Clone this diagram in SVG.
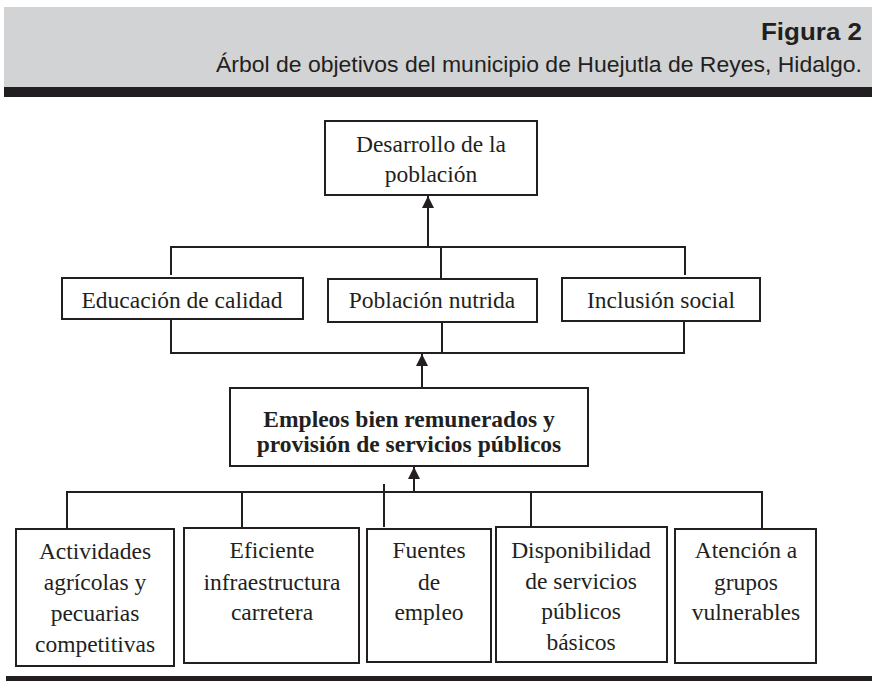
<svg xmlns="http://www.w3.org/2000/svg" width="872" height="681" viewBox="0 0 872 681">
<defs>
<style>
.box{fill:#fff;stroke:#231f20;stroke-width:2}
.ln{fill:none;stroke:#231f20;stroke-width:2}
.t{font-family:"Liberation Serif","Times New Roman",serif;font-size:23.5px;fill:#231f20;text-anchor:middle}
.b{font-weight:bold}
.h{font-family:"Liberation Sans",Arial,sans-serif;fill:#231f20}
</style>
<marker id="arr" viewBox="0 0 12 12" refX="12" refY="6" markerWidth="12" markerHeight="12" markerUnits="userSpaceOnUse" orient="auto">
<path d="M0,0 L12,6 L0,12 Z" fill="#231f20"/>
</marker>
</defs>
<rect width="872" height="681" fill="#fff"/>
<g id="header">
<rect x="4" y="7" width="868" height="80" fill="#d1d3d4"/>
<rect x="4" y="87" width="868" height="10" fill="#231f20"/>
<text class="h" x="862" y="40" font-size="23" font-weight="bold" text-anchor="end" textLength="101" lengthAdjust="spacingAndGlyphs">Figura 2</text>
<text class="h" x="862" y="72" font-size="22" text-anchor="end" textLength="646" lengthAdjust="spacingAndGlyphs">Árbol de objetivos del municipio de Huejutla de Reyes, Hidalgo.</text>
</g>
<g id="connectors">
<polyline class="ln" points="171,275 171,247 685,247 685,275"/>
<line class="ln" x1="441" y1="247" x2="441" y2="279"/>
<line class="ln" x1="428" y1="247" x2="428" y2="196" marker-end="url(#arr)"/>
<polyline class="ln" points="171,319 171,353 684,353 684,321"/>
<line class="ln" x1="442" y1="321" x2="442" y2="353"/>
<line class="ln" x1="422" y1="388" x2="422" y2="354" marker-end="url(#arr)"/>
<polyline class="ln" points="67,529 67,492 762,492 762,529"/>
<line class="ln" x1="242" y1="492" x2="242" y2="528"/>
<line class="ln" x1="384" y1="484" x2="384" y2="527"/>
<line class="ln" x1="531" y1="492" x2="531" y2="527"/>
<line class="ln" x1="414" y1="492" x2="414" y2="467" marker-end="url(#arr)"/>
</g>
<g id="n_desarrollo">
<rect class="box" x="325" y="121" width="212" height="74"/>
<text class="t" x="431" y="152">Desarrollo de la</text>
<text class="t" x="431" y="182">población</text>
</g>
<g id="n_educacion">
<rect class="box" x="62" y="278" width="241" height="41"/>
<text class="t" x="182" y="308">Educación de calidad</text>
</g>
<g id="n_poblacion">
<rect class="box" x="328" y="279" width="209" height="43"/>
<text class="t" x="432" y="308">Población nutrida</text>
</g>
<g id="n_inclusion">
<rect class="box" x="562" y="278" width="198" height="43"/>
<text class="t" x="661" y="308">Inclusión social</text>
</g>
<g id="n_empleos">
<rect class="box" x="230" y="388" width="358" height="78"/>
<text class="t b" x="409" y="427">Empleos bien remunerados y</text>
<text class="t b" x="409" y="452">provisión de servicios públicos</text>
</g>
<g id="n_actividades">
<rect class="box" x="16" y="529" width="158" height="137"/>
<text class="t" x="95" y="559">Actividades</text>
<text class="t" x="95" y="590">agrícolas y</text>
<text class="t" x="95" y="621">pecuarias</text>
<text class="t" x="95" y="652">competitivas</text>
</g>
<g id="n_eficiente">
<rect class="box" x="184" y="528" width="175" height="135"/>
<text class="t" x="272" y="558">Eficiente</text>
<text class="t" x="272" y="590">infraestructura</text>
<text class="t" x="272" y="620">carretera</text>
</g>
<g id="n_fuentes">
<rect class="box" x="367" y="529" width="124" height="133"/>
<text class="t" x="429" y="558">Fuentes</text>
<text class="t" x="429" y="590">de</text>
<text class="t" x="429" y="620">empleo</text>
</g>
<g id="n_disponibilidad">
<rect class="box" x="496" y="527" width="171" height="135"/>
<text class="t" x="581" y="558">Disponibilidad</text>
<text class="t" x="581" y="589">de servicios</text>
<text class="t" x="581" y="619">públicos</text>
<text class="t" x="581" y="650">básicos</text>
</g>
<g id="n_atencion">
<rect class="box" x="675" y="529" width="141" height="134"/>
<text class="t" x="746" y="558">Atención a</text>
<text class="t" x="746" y="590">grupos</text>
<text class="t" x="746" y="620">vulnerables</text>
</g>
<rect id="footer" x="6" y="676" width="866" height="5" fill="#231f20"/>
</svg>
